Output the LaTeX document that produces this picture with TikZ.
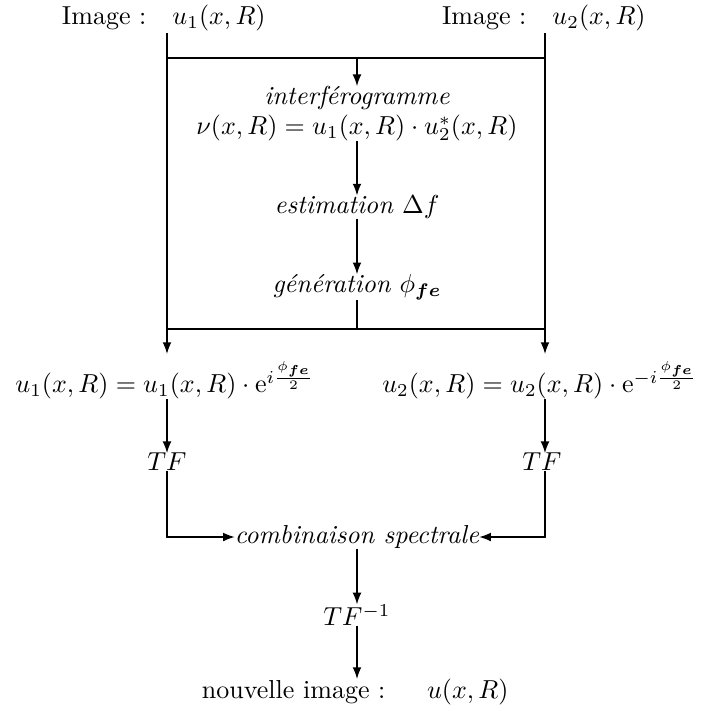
\documentclass[tikz,border=0pt]{standalone}
\usepackage{amsmath,bm}
\usetikzlibrary{arrows.meta}
\begin{document}
\begin{tikzpicture}[x=0.3846pt,y=-0.3846pt,
  lbl/.style={inner sep=0pt, outer sep=0pt},
  conn/.style={line width=0.55pt},
  arr/.style={conn,-{Latex[length=4.5pt,width=3.4pt]}},
  bar/.style={line width=0.85pt}]
\useasboundingbox (0,0) rectangle (705,711);
% top labels
\node[lbl,anchor=west] (img1) at (62,18) {Image :\quad$u_1(x,R)$};
\node[lbl,anchor=west] (img2) at (442,18) {Image :\quad$u_2(x,R)$};
\coordinate (L0) at (167,33);
\coordinate (R0) at (545,33);
\coordinate (L1) at (167,58);
\coordinate (R1) at (545,58);
\coordinate (M1) at (357,58);
% inner box
\node[lbl] (interf) at (357,98) {\textit{interférogramme}};
\node[lbl] (nu) at (357,128) {$\nu(x,R)=u_1(x,R)\cdot u_2^{*}(x,R)$};
\node[lbl] (est) at (357,207) {\textit{estimation} $\Delta f$};
\node[lbl] (gen) at (357,287) {\textit{génération} $\phi_{\bm{fe}}$};
\coordinate (M3) at (357,329);
\coordinate (L3) at (167,329);
\coordinate (R3) at (545,329);
\coordinate (L4) at (167,354);
\coordinate (R4) at (545,354);
% equations
\node[lbl] (eq1) at (165,380) {$u_1(x,R)=u_1(x,R)\cdot\mathrm{e}^{i\frac{\phi_{\bm{fe}}}{2}}$};
\node[lbl] (eq2) at (540,380) {$u_2(x,R)=u_2(x,R)\cdot\mathrm{e}^{-i\frac{\phi_{\bm{fe}}}{2}}$};
\node[lbl] (tf1) at (167,462) {$TF$};
\node[lbl] (tf2) at (542,462) {$TF$};
\node[lbl] (comb) at (357,537) {\textit{combinaison spectrale}};
\node[lbl] (tf3) at (357,615) {$TF^{-1}$};
\node[lbl,anchor=west] (new) at (202,692) {nouvelle image :\hspace{16pt}$u(x,R)$};
% connectors
\draw[arr] (L0) -- (L4);
\draw[arr] (R0) -- (R4);
\draw[bar] (L1) -- (R1);
\draw[bar] (L3) -- (R3);
\draw[arr] (M1) -- (interf.north);
\draw[arr] (nu.south) -- (est.north);
\draw[arr] (est.south) -- (gen.north);
\draw[conn] (gen.south) -- (M3);
\draw[arr] (eq1.south -| L4) -- (L4 |- tf1.north);
\draw[arr] (eq2.south -| R4) -- (R4 |- tf2.north);
\draw[arr] (L4 |- tf1.south) |- (comb.west);
\draw[arr] (R4 |- tf2.south) |- (comb.east);
\draw[arr] (comb.south) -- (tf3.north);
\draw[arr] (tf3.south) -- (tf3.south |- new.north);
\end{tikzpicture}
\end{document}
